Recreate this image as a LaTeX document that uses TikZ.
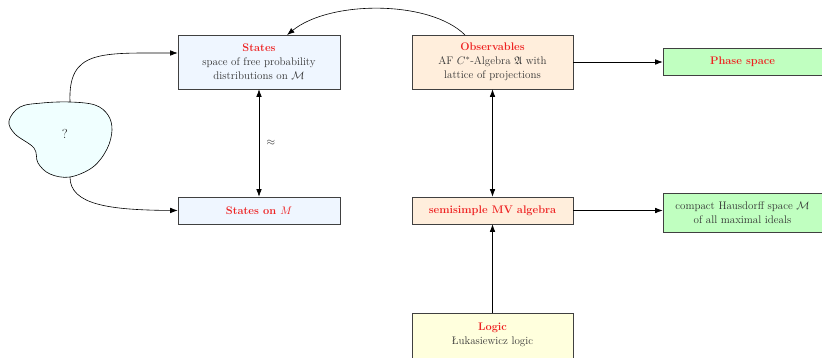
\documentclass[tikz,border=0pt]{standalone}
\usepackage{fontspec}
\usepackage{amssymb}
\usetikzlibrary{arrows.meta}
\definecolor{stfill}{HTML}{EFF6FF}
\definecolor{obfill}{HTML}{FFEEDC}
\definecolor{phfill}{HTML}{C0FFC0}
\definecolor{lgfill}{HTML}{FFFFDD}
\definecolor{blobfill}{HTML}{F0FFFF}
\definecolor{ttl}{HTML}{EE2222}
\begin{document}
\begin{tikzpicture}[x=1pt,y=-1pt,
  box/.style={draw=black!75,line width=0.6pt,rectangle,align=center,inner sep=2pt,
    font=\fontsize{11}{14}\selectfont,text=black!80},
  arr/.style={-{Latex[length=7.5pt,width=5.5pt]},line width=0.6pt},
  darr/.style={{Latex[length=7.5pt,width=5.5pt]}-{Latex[length=7.5pt,width=5.5pt]},line width=0.6pt}]
\useasboundingbox (0,0) rectangle (822,357);
\newcommand{\ttl}[1]{\textcolor{ttl}{\textbf{#1}}}
\node[box,fill=stfill,minimum width=162pt,minimum height=54pt] (states) at (259,62)
  {\ttl{States}\\space of free probability\\distributions on $\mathcal{M}$};
\node[box,fill=obfill,minimum width=161pt,minimum height=54pt] (obs) at (492.5,62)
  {\ttl{Observables}\\AF $C^{*}$-Algebra $\mathfrak{A}$ with\\lattice of projections};
\node[box,fill=phfill,minimum width=159pt,minimum height=27pt] (phase) at (742.5,62)
  {\ttl{Phase space}};
\node[box,fill=stfill,minimum width=162pt,minimum height=27pt] (statesM) at (259,210.5)
  {\ttl{States on $M$}};
\node[box,fill=obfill,minimum width=161pt,minimum height=27pt] (mv) at (492.5,210.5)
  {\ttl{semisimple MV algebra}};
\node[box,fill=phfill,minimum width=159pt,minimum height=39pt] (compact) at (742.5,212.5)
  {compact Hausdorff space $\mathcal{M}$\\of all maximal ideals};
\node[box,fill=lgfill,minimum width=161pt,anchor=north,inner ysep=9.5pt] (logic) at (492.5,313)
  {\ttl{Logic}\\Łukasiewicz logic\\[14pt]\mbox{}};
% blob
\draw[line width=0.6pt,fill=blobfill] plot[smooth cycle,tension=0.6] coordinates
  {(70,102) (95,105) (108,115) (112,130) (107,149) (93,167) (70,177) (50,174) (38,163) (34,148) (15,134) (9,121) (20,107) (42,103)};
\node[font=\fontsize{13}{15}\selectfont,text=black!80] (q) at (65,134) {?};
\coordinate (blobtop) at (70,102);
\coordinate (blobbot) at (70,177);
% connectors
\draw[darr] (states.south) -- node[right=4pt,font=\fontsize{11}{13}\selectfont,text=black!80] (approx) {$\approx$} (statesM.north);
\draw[darr] (obs.south) -- (mv.north);
\draw[arr] (obs.east) -- (phase.west);
\draw[arr] (mv.east) -- (mv.east -| compact.west);
\draw[arr] (logic.north) -- (mv.south);
\coordinate (obstop) at (465,35);
\coordinate (sttop) at (287,35);
\draw[arr] (obstop) .. controls (430,0) and (330,0) .. (sttop);
\draw[arr] (blobtop) .. controls (68,50) and (100,53) .. (states.west |- 0,53);
\draw[arr] (blobbot) .. controls (70,205) and (110,210) .. (statesM.west);
\end{tikzpicture}
\end{document}
